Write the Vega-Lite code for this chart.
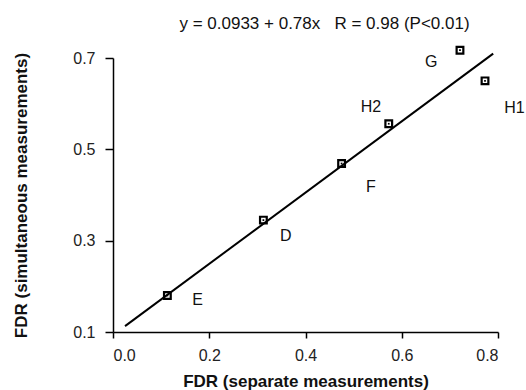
{
  "$schema": "https://vega.github.io/schema/vega-lite/v6.json",
  "autosize": "none",
  "width": 385,
  "height": 274,
  "padding": {"left": 113, "top": 58, "right": 28, "bottom": 58},
  "background": "white",
  "config": {
    "view": {"stroke": null},
    "font": "Liberation Sans",
    "axis": {"grid": false, "domainColor": "black", "tickColor": "black", "labelColor": "#222", "labelFontSize": 16, "titleFontSize": 17, "titleFontWeight": "bold", "titleColor": "#111", "labelFont": "Liberation Sans", "titleFont": "Liberation Sans", "domainWidth": 1.5, "tickWidth": 1.5, "tickSize": 6}
  },
  "title": {"text": "y = 0.0933 + 0.78x\u00a0\u00a0\u00a0R = 0.98 (P<0.01)", "fontSize": 17, "fontWeight": "normal", "font": "Liberation Sans", "color": "#111", "offset": 9, "anchor": "middle", "dx": 19},
  "datasets": {
    "pts": [
      {"name": "E", "sep": 0.113, "sim": 0.18, "lx": 0.176, "ly": 0.17},
      {"name": "D", "sep": 0.3125, "sim": 0.345, "lx": 0.359, "ly": 0.311},
      {"name": "F", "sep": 0.475, "sim": 0.469, "lx": 0.536, "ly": 0.418},
      {"name": "H2", "sep": 0.573, "sim": 0.556, "lx": 0.536, "ly": 0.593},
      {"name": "G", "sep": 0.721, "sim": 0.717, "lx": 0.661, "ly": 0.691},
      {"name": "H1", "sep": 0.773, "sim": 0.65, "lx": 0.834, "ly": 0.59}
    ],
    "fit": [
      {"sep": 0.025, "sim": 0.1128},
      {"sep": 0.79, "sim": 0.7095}
    ]
  },
  "layer": [
    {
      "data": {"name": "fit"},
      "mark": {"type": "line", "color": "black", "strokeWidth": 2, "clip": false},
      "encoding": {
        "x": {"field": "sep", "type": "quantitative", "scale": {"domain": [0, 0.8], "nice": false}, "axis": {"values": [0, 0.2, 0.4, 0.6, 0.8], "format": ".1f", "title": "FDR (separate measurements)", "titlePadding": 10, "labelPadding": 9}},
        "y": {"field": "sim", "type": "quantitative", "scale": {"domain": [0.1, 0.7], "nice": false, "zero": false}, "axis": {"values": [0.1, 0.3, 0.5, 0.7], "format": ".1f", "title": "FDR (simultaneous measurements)", "titlePadding": 42, "labelPadding": 10, "tickSize": 8}}
      }
    },
    {
      "data": {"name": "pts"},
      "mark": {"type": "point", "shape": "square", "filled": false, "stroke": "black", "strokeWidth": 2.2, "size": 45, "clip": false, "opacity": 1},
      "encoding": {
        "x": {"field": "sep", "type": "quantitative"},
        "y": {"field": "sim", "type": "quantitative"}
      }
    },
    {
      "data": {"name": "pts"},
      "mark": {"type": "point", "shape": "square", "filled": true, "color": "black", "size": 3, "clip": false, "opacity": 1},
      "encoding": {
        "x": {"field": "sep", "type": "quantitative"},
        "y": {"field": "sim", "type": "quantitative"}
      }
    },
    {
      "data": {"name": "pts"},
      "mark": {"type": "text", "fontSize": 16, "color": "#111", "font": "Liberation Sans", "clip": false},
      "encoding": {
        "x": {"field": "lx", "type": "quantitative"},
        "y": {"field": "ly", "type": "quantitative"},
        "text": {"field": "name"}
      }
    }
  ]
}
